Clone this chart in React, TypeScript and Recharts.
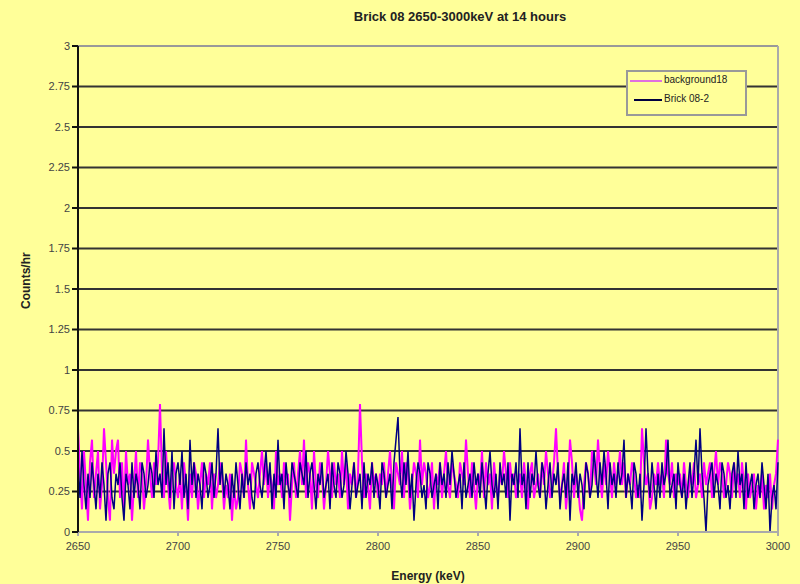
import React from "react";
import { LineChart, Line, XAxis, YAxis, CartesianGrid, ReferenceLine } from "recharts";

const energies: number[] = [];
for (let e = 2650; e <= 3000; e++) energies.push(e);

const background18: number[] = [
  0.64, 0.36, 0.14, 0.50, 0.29, 0.07, 0.43, 0.57, 0.21, 0.36,
  0.50, 0.14, 0.29, 0.64, 0.43, 0.21, 0.07, 0.57, 0.36, 0.50,
  0.57, 0.21, 0.43, 0.14, 0.50, 0.29, 0.36, 0.07, 0.29, 0.50,
  0.21, 0.43, 0.36, 0.14, 0.29, 0.57, 0.36, 0.21, 0.43, 0.29,
  0.43, 0.79, 0.36, 0.21, 0.50, 0.29, 0.14, 0.36, 0.43, 0.29,
  0.21, 0.36, 0.14, 0.43, 0.29, 0.07, 0.36, 0.21, 0.43, 0.36,
  0.14, 0.29, 0.43, 0.21, 0.36, 0.29, 0.43, 0.14, 0.36, 0.21,
  0.29, 0.43, 0.36, 0.14, 0.29, 0.21, 0.36, 0.07, 0.29, 0.14,
  0.21, 0.43, 0.36, 0.21, 0.57, 0.29, 0.14, 0.43, 0.36, 0.29,
  0.21, 0.36, 0.50, 0.29, 0.43, 0.21, 0.36, 0.29, 0.14, 0.50,
  0.29, 0.36, 0.21, 0.43, 0.29, 0.36, 0.07, 0.29, 0.43, 0.21,
  0.36, 0.50, 0.29, 0.57, 0.21, 0.43, 0.36, 0.14, 0.50, 0.29,
  0.21, 0.43, 0.36, 0.14, 0.29, 0.50, 0.36, 0.21, 0.43, 0.29,
  0.36, 0.21, 0.50, 0.29, 0.43, 0.14, 0.36, 0.29, 0.43, 0.21,
  0.36, 0.79, 0.43, 0.21, 0.36, 0.29, 0.14, 0.43, 0.29, 0.36,
  0.21, 0.36, 0.29, 0.43, 0.21, 0.36, 0.50, 0.29, 0.14, 0.43,
  0.36, 0.29, 0.50, 0.21, 0.43, 0.36, 0.14, 0.29, 0.43, 0.36,
  0.21, 0.57, 0.29, 0.43, 0.36, 0.21, 0.29, 0.43, 0.14, 0.36,
  0.29, 0.43, 0.21, 0.36, 0.50, 0.29, 0.21, 0.43, 0.36, 0.29,
  0.21, 0.43, 0.36, 0.29, 0.57, 0.36, 0.21, 0.43, 0.29, 0.14,
  0.36, 0.29, 0.50, 0.21, 0.43, 0.29, 0.36, 0.14, 0.43, 0.29,
  0.21, 0.36, 0.29, 0.50, 0.36, 0.21, 0.43, 0.29, 0.36, 0.21,
  0.29, 0.36, 0.21, 0.43, 0.29, 0.14, 0.36, 0.43, 0.21, 0.29,
  0.36, 0.21, 0.43, 0.29, 0.50, 0.36, 0.21, 0.29, 0.43, 0.64,
  0.36, 0.21, 0.29, 0.43, 0.14, 0.29, 0.57, 0.43, 0.21, 0.36,
  0.29, 0.14, 0.07, 0.29, 0.43, 0.36, 0.21, 0.50, 0.43, 0.29,
  0.57, 0.36, 0.21, 0.43, 0.29, 0.50, 0.36, 0.21, 0.43, 0.29,
  0.36, 0.50, 0.29, 0.43, 0.21, 0.36, 0.29, 0.43, 0.36, 0.21,
  0.29, 0.21, 0.64, 0.43, 0.29, 0.36, 0.14, 0.21, 0.36, 0.29,
  0.43, 0.29, 0.36, 0.21, 0.57, 0.36, 0.29, 0.43, 0.21, 0.36,
  0.29, 0.36, 0.21, 0.43, 0.29, 0.21, 0.36, 0.29, 0.43, 0.21,
  0.29, 0.36, 0.21, 0.43, 0.29, 0.36, 0.43, 0.21, 0.36, 0.50,
  0.29, 0.43, 0.36, 0.21, 0.29, 0.43, 0.36, 0.21, 0.43, 0.29,
  0.36, 0.21, 0.43, 0.29, 0.14, 0.36, 0.21, 0.29, 0.36, 0.14,
  0.29, 0.21, 0.36, 0.14, 0.29, 0.21, 0.36, 0.14, 0.29, 0.36,
  0.57,
];

const brick08_2: number[] = [
  0.43, 0.21, 0.50, 0.29, 0.14, 0.36, 0.21, 0.43, 0.29, 0.14,
  0.36, 0.21, 0.43, 0.29, 0.07, 0.36, 0.43, 0.21, 0.14, 0.36,
  0.29, 0.43, 0.21, 0.07, 0.36, 0.29, 0.14, 0.43, 0.21, 0.36,
  0.29, 0.14, 0.43, 0.36, 0.21, 0.29, 0.43, 0.36, 0.21, 0.50,
  0.29, 0.36, 0.21, 0.64, 0.29, 0.43, 0.21, 0.50, 0.14, 0.36,
  0.43, 0.29, 0.50, 0.21, 0.36, 0.14, 0.57, 0.29, 0.43, 0.21,
  0.36, 0.29, 0.14, 0.43, 0.36, 0.21, 0.29, 0.43, 0.21, 0.36,
  0.64, 0.29, 0.43, 0.21, 0.36, 0.29, 0.14, 0.36, 0.21, 0.43,
  0.29, 0.14, 0.36, 0.21, 0.43, 0.29, 0.36, 0.21, 0.14, 0.36,
  0.43, 0.29, 0.21, 0.36, 0.50, 0.29, 0.43, 0.14, 0.36, 0.21,
  0.57, 0.29, 0.36, 0.14, 0.43, 0.29, 0.21, 0.43, 0.36, 0.29,
  0.21, 0.43, 0.36, 0.29, 0.50, 0.21, 0.36, 0.43, 0.29, 0.14,
  0.36, 0.29, 0.43, 0.21, 0.29, 0.36, 0.14, 0.43, 0.29, 0.21,
  0.43, 0.36, 0.21, 0.29, 0.50, 0.36, 0.14, 0.29, 0.43, 0.21,
  0.29, 0.36, 0.14, 0.43, 0.21, 0.36, 0.29, 0.43, 0.21, 0.36,
  0.29, 0.14, 0.43, 0.36, 0.21, 0.29, 0.36, 0.14, 0.43, 0.57,
  0.71, 0.36, 0.21, 0.43, 0.29, 0.50, 0.21, 0.36, 0.07, 0.29,
  0.43, 0.36, 0.21, 0.29, 0.14, 0.43, 0.36, 0.21, 0.29, 0.36,
  0.14, 0.43, 0.29, 0.36, 0.21, 0.43, 0.29, 0.50, 0.36, 0.21,
  0.29, 0.36, 0.14, 0.43, 0.21, 0.29, 0.36, 0.21, 0.43, 0.29,
  0.36, 0.21, 0.43, 0.29, 0.14, 0.36, 0.50, 0.29, 0.21, 0.36,
  0.14, 0.43, 0.29, 0.36, 0.21, 0.43, 0.07, 0.36, 0.29, 0.43,
  0.21, 0.64, 0.29, 0.36, 0.14, 0.43, 0.21, 0.36, 0.29, 0.50,
  0.29, 0.21, 0.43, 0.36, 0.14, 0.29, 0.43, 0.21, 0.36, 0.29,
  0.43, 0.14, 0.29, 0.36, 0.21, 0.43, 0.07, 0.36, 0.29, 0.43,
  0.21, 0.36, 0.29, 0.14, 0.43, 0.36, 0.21, 0.29, 0.50, 0.36,
  0.21, 0.43, 0.29, 0.50, 0.36, 0.14, 0.43, 0.29, 0.36, 0.21,
  0.43, 0.29, 0.36, 0.57, 0.21, 0.36, 0.29, 0.14, 0.43, 0.36,
  0.21, 0.36, 0.07, 0.29, 0.64, 0.36, 0.21, 0.43, 0.29, 0.14,
  0.36, 0.21, 0.43, 0.29, 0.36, 0.57, 0.21, 0.29, 0.36, 0.14,
  0.43, 0.29, 0.21, 0.36, 0.14, 0.29, 0.43, 0.21, 0.36, 0.57,
  0.29, 0.64, 0.36, 0.21, 0.00, 0.29, 0.36, 0.43, 0.21, 0.36,
  0.29, 0.14, 0.43, 0.36, 0.21, 0.29, 0.14, 0.36, 0.43, 0.21,
  0.50, 0.29, 0.36, 0.14, 0.43, 0.21, 0.29, 0.36, 0.14, 0.29,
  0.36, 0.21, 0.43, 0.29, 0.14, 0.36, 0.00, 0.21, 0.29, 0.14,
  0.43,
];

const xTicks = [2650, 2700, 2750, 2800, 2850, 2900, 2950, 3000];
const yTicks = [0, 0.25, 0.5, 0.75, 1, 1.25, 1.5, 1.75, 2, 2.25, 2.5, 2.75, 3];

const data = energies.map((e, i) => ({
  energy: e,
  background18: background18[i],
  brick: brick08_2[i],
}));

const BG = "#FFFF99";
const MAGENTA = "#FF00FF";
const NAVY = "#000080";
const FONT = "Arial, 'Liberation Sans', sans-serif";

export default function App() {
  return (
    <div style={{ position: "absolute", left: 0, top: 0, width: 800, height: 584, background: BG, fontFamily: FONT }}>
      <div style={{ position: "absolute", left: 0, width: 920, top: 9, textAlign: "center", fontSize: 13, fontWeight: "bold", color: "#222" }}>
        Brick 08 2650-3000keV at 14 hours
      </div>
      <LineChart
        width={800}
        height={584}
        data={data}
        margin={{ top: 46, right: 22, bottom: 22, left: 28 }}
      >
        <CartesianGrid vertical={false} stroke="#333" strokeWidth={2} />
        <XAxis
          dataKey="energy"
          type="number"
          domain={[2650, 3000]}
          ticks={xTicks}
          interval={0}
          height={30}
          stroke="#aaa"
          strokeWidth={2}
          tickSize={4}
          tick={{ fill: "#444", fontSize: 11, fontFamily: FONT, dy: 4 }}
          label={{ value: "Energy (keV)", position: "insideBottom", offset: -18, fill: "#222", fontSize: 12, fontWeight: "bold", fontFamily: FONT }}
        />
        <YAxis
          type="number"
          domain={[0, 3]}
          ticks={yTicks}
          interval={0}
          width={50}
          stroke="#111"
          strokeWidth={2}
          tickSize={6}
          tick={{ fill: "#444", fontSize: 11, fontFamily: FONT }}
          label={{ value: "Counts/hr", angle: -90, position: "insideLeft", offset: -2, dy: 20, fill: "#222", fontSize: 12, fontWeight: "bold", fontFamily: FONT }}
        />
        <ReferenceLine y={3} stroke="#999" strokeWidth={2} />
        <ReferenceLine x={3000} stroke="#aaa" strokeWidth={2} />
        <Line type="linear" dataKey="background18" stroke={MAGENTA} strokeWidth={2} dot={false} isAnimationActive={false} />
        <Line type="linear" dataKey="brick" stroke={NAVY} strokeWidth={1.5} dot={false} isAnimationActive={false} />
      </LineChart>
      <div style={{ position: "absolute", left: 626, top: 70, width: 117, height: 42, border: "2px solid #999", background: BG, fontSize: 10, color: "#222" }}>
        <div style={{ position: "absolute", left: 2, top: 8, width: 32, height: 2, background: "#E070E0" }} />
        <div style={{ position: "absolute", left: 36, top: 2 }}>background18</div>
        <div style={{ position: "absolute", left: 6, top: 27, width: 28, height: 2, background: "#000040" }} />
        <div style={{ position: "absolute", left: 36, top: 21 }}>Brick 08-2</div>
      </div>
    </div>
  );
}
